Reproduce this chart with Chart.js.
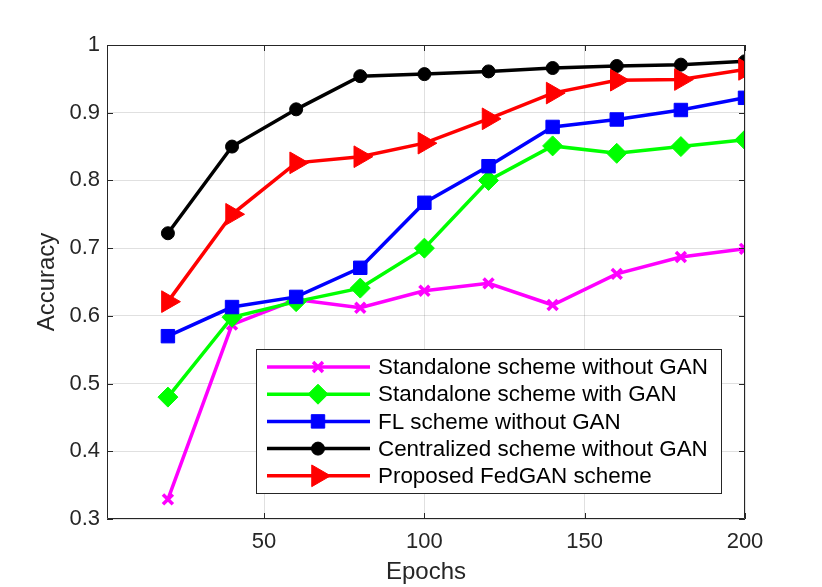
<!DOCTYPE html>
<html>
<head>
<meta charset="utf-8">
<script src="https://cdn.jsdelivr.net/npm/chart.js@4/dist/chart.umd.min.js"></script>
<style>
  body { margin: 0; background: #fff; }
  #wrap { width: 822px; height: 587px; }
</style>
</head>
<body>
<div id="wrap"><canvas id="canvas" width="822" height="587"></canvas></div>
<script>
var epochs = [20, 40, 60, 80, 100, 120, 140, 160, 180, 200];
var xTicks = [50, 100, 150, 200];

var standaloneNoGan = [0.329, 0.587, 0.624, 0.612, 0.637, 0.648, 0.616, 0.662, 0.687, 0.699];
var standaloneGan   = [0.480, 0.598, 0.621, 0.641, 0.700, 0.800, 0.851, 0.840, 0.850, 0.860];
var flNoGan         = [0.570, 0.613, 0.628, 0.671, 0.767, 0.821, 0.879, 0.890, 0.904, 0.922];
var centralNoGan    = [0.722, 0.850, 0.905, 0.954, 0.957, 0.961, 0.966, 0.969, 0.971, 0.976];
var fedGan          = [0.621, 0.750, 0.826, 0.835, 0.855, 0.891, 0.929, 0.948, 0.949, 0.964];

var labels = [
    "Standalone scheme without GAN",
    "Standalone scheme with GAN",
    "FL scheme without GAN",
    "Centralized scheme without GAN",
    "Proposed FedGAN scheme"
];

function pts(values) {
    return values.map(function (v, i) { return { x: epochs[i], y: v }; });
}

function series(label, values, color, style, radius, rotation, order, bw) {
    return {
        label: label,
        data: pts(values),
        borderColor: color,
        backgroundColor: color,
        borderWidth: 3.5,
        pointStyle: style,
        pointRadius: radius,
        pointHoverRadius: radius,
        pointRotation: rotation,
        pointBackgroundColor: color,
        pointBorderColor: color,
        pointBorderWidth: bw,
        tension: 0,
        order: order
    };
}

var axisColor = "#262626";
var font = "'Liberation Sans', Arial, Helvetica, sans-serif";

var boxPlugin = {
    id: "box",
    afterDatasetsDraw: function (chart) {
        var ctx = chart.ctx, a = chart.chartArea;
        var xs = chart.scales.x, ys = chart.scales.y;
        ctx.save();
        ctx.strokeStyle = axisColor;
        ctx.lineWidth = 1;
        ctx.beginPath();
        ctx.rect(a.left + 0.5, a.top + 0.5, a.right - a.left - 1, a.bottom - a.top - 1);
        ctx.stroke();
        var tl = 6;
        ctx.beginPath();
        xTicks.forEach(function (t) {
            var px = Math.round(xs.getPixelForValue(t)) + 0.5;
            ctx.moveTo(px, a.bottom); ctx.lineTo(px, a.bottom - tl);
            ctx.moveTo(px, a.top); ctx.lineTo(px, a.top + tl);
        });
        ys.ticks.forEach(function (t) {
            var py = Math.round(ys.getPixelForValue(t.value)) + 0.5;
            ctx.moveTo(a.left, py); ctx.lineTo(a.left + tl, py);
            ctx.moveTo(a.right, py); ctx.lineTo(a.right - tl, py);
        });
        ctx.stroke();

        // legend box inside the plot
        var lx = 256, ly = 349, lw = 465, lh = 144, row = 27.2;
        ctx.fillStyle = "#fff";
        ctx.fillRect(lx, ly, lw, lh);
        ctx.strokeRect(lx + 0.5, ly + 0.5, lw, lh);
        ctx.font = "22.4px " + font;
        ctx.textBaseline = "middle";
        ctx.textAlign = "left";
        chart.data.datasets.forEach(function (ds, i) {
            var y = ly + 18 + i * row;
            ctx.strokeStyle = ds.borderColor;
            ctx.lineWidth = ds.borderWidth;
            ctx.beginPath();
            ctx.moveTo(lx + 11, y); ctx.lineTo(lx + 114, y);
            ctx.stroke();
            ctx.fillStyle = ds.pointBackgroundColor;
            ctx.lineWidth = ds.pointBorderWidth;
            Chart.helpers.drawPoint(ctx, {
                pointStyle: ds.pointStyle,
                radius: ds.pointRadius,
                rotation: ds.pointRotation,
                borderWidth: ds.pointBorderWidth
            }, lx + 62, y);
            ctx.fillStyle = "#000";
            ctx.fillText(ds.label, lx + 122, y + 1);
        });
        ctx.restore();
    }
};

var ctx = document.getElementById("canvas").getContext("2d");
window.AccuracyChart = new Chart(ctx, {
    type: "line",
    data: {
        datasets: [
            series(labels[0], standaloneNoGan, "#ff00ff", "crossRot", 7, 0, 4, 3.5),
            series(labels[1], standaloneGan, "#00ff00", "rectRot", 10, 0, 3, 1),
            series(labels[2], flNoGan, "#0000ff", "rect", 9.5, 0, 2, 1),
            series(labels[3], centralNoGan, "#000000", "circle", 6.5, 0, 1, 1),
            series(labels[4], fedGan, "#ff0000", "triangle", 12.5, 90, 0, 1)
        ]
    },
    options: {
        responsive: false,
        animation: false,
        devicePixelRatio: 1,
        layout: { padding: { top: 45, right: 77, left: 0, bottom: 0 } },
        plugins: { legend: { display: false }, tooltip: { enabled: false } },
        scales: {
            x: {
                type: "linear",
                min: 1,
                max: 200,
                afterBuildTicks: function (scale) {
                    scale.ticks = xTicks.map(function (v) { return { value: v }; });
                },
                afterFit: function (scale) { scale.height = 68; },
                grid: { color: "rgba(38,38,38,0.14)", drawTicks: false },
                border: { display: false },
                ticks: {
                    color: axisColor,
                    padding: 10,
                    maxRotation: 0,
                    font: { family: font, size: 22 }
                },
                title: {
                    display: true,
                    text: "Epochs",
                    color: axisColor,
                    padding: { top: 0, bottom: 0 },
                    font: { family: font, size: 24 }
                }
            },
            y: {
                min: 0.3,
                max: 1,
                afterFit: function (scale) { scale.width = 107; },
                grid: { color: "rgba(38,38,38,0.14)", drawTicks: false },
                border: { display: false },
                ticks: {
                    stepSize: 0.1,
                    color: axisColor,
                    padding: 7,
                    font: { family: font, size: 22 },
                    callback: function (v) { return String(Number(v.toFixed(1))); }
                },
                title: {
                    display: true,
                    text: "Accuracy",
                    color: axisColor,
                    padding: { top: 33, bottom: 0 },
                    font: { family: font, size: 24 }
                }
            }
        }
    },
    plugins: [boxPlugin]
});
</script>
</body>
</html>
